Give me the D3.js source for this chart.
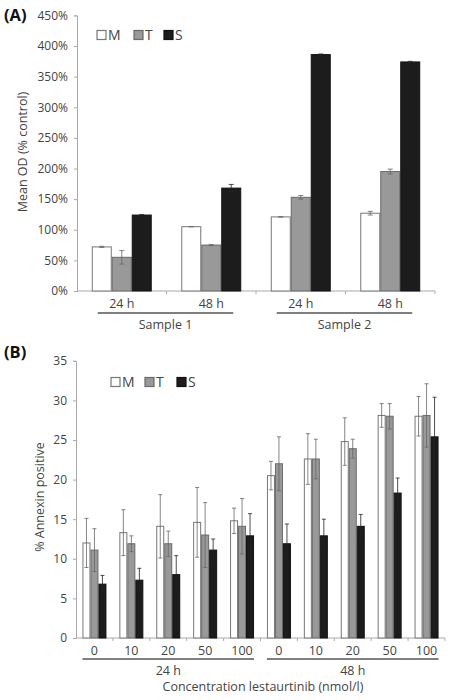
<!DOCTYPE html>
<html><head><meta charset="utf-8">
<script src="https://cdn.jsdelivr.net/npm/d3@7"></script>
<style>body{margin:0;background:#fff}svg{display:block}text{font-family:"Open Sans",sans-serif;fill:#444}</style>
</head><body><svg id="c" width="451" height="700"></svg>
<script>
// Panel A data
const aGroups = ["S1 24 h","S1 48 h","S2 24 h","S2 48 h"];
const aLabels = ["24 h","48 h","24 h","48 h"];
const aSamples = ["Sample 1","Sample 2"];
const aM = [72,105,121,127];
const aT = [55,75,153,195];
const aS = [124,168,386,374];
const aMerr = [1,0,0,3];
const aTerr = [11,1,3,4];
const aSerr = [1,6,1,1];
const aTicks = [0,50,100,150,200,250,300,350,400,450];

// Panel B data
const bGroups = ["24-0","24-10","24-20","24-50","24-100","48-0","48-10","48-20","48-50","48-100"];
const bLabels = ["0","10","20","50","100","0","10","20","50","100"];
const bTimes = ["24 h","48 h"];
const bM = [12.0,13.3,14.1,14.6,14.8,20.5,22.6,24.8,28.1,28.0];
const bT = [11.1,11.9,11.9,13.0,14.1,22.0,22.6,23.9,28.0,28.1];
const bS = [6.8,7.3,8.0,11.1,12.9,11.9,12.9,14.1,18.3,25.4];
const bMerr = [3.1,2.9,4.0,4.4,1.6,1.8,3.2,3.0,1.5,2.5];
const bTerr = [2.7,1.0,1.6,4.1,3.5,3.4,2.5,1.2,1.6,4.0];
const bSerr = [1.1,1.5,2.4,1.4,2.8,2.5,2.1,1.5,1.9,5.0];
const bTicks = [0,5,10,15,20,25,30,35];

const series = ["M","T","S"];
const fills = {M:"#ffffff",T:"#999999",S:"#1c1c1c"};
const strokes = {M:"#777",T:"#6a6a6a",S:"#111"};

const svg = d3.select("#c");

function panel(opt){
  const g = svg.append("g");
  const x = d3.scaleBand().domain(opt.groups).range([opt.x0,opt.x1]).paddingInner(opt.pad).paddingOuter(opt.pad/2);
  const xs = d3.scaleBand().domain(series).range([0,x.bandwidth()]);
  const y = d3.scaleLinear().domain([0,opt.ymax]).range([opt.y0,opt.y1]);
  // y axis
  const ya = g.append("g").attr("transform",`translate(${opt.x0},0)`)
    .call(d3.axisLeft(y).tickValues(opt.ticks).tickSize(3).tickPadding(6).tickFormat(opt.fmt));
  ya.select(".domain").attr("stroke","#aaa");
  ya.selectAll(".tick line").attr("stroke","#aaa");
  ya.selectAll(".tick text").style("font-size","12px").style("fill","#444").style("font-family","Open Sans");
  // x axis line + boundary ticks
  const xa = g.append("g").attr("transform",`translate(0,${opt.y0})`);
  xa.append("line").attr("x1",opt.x0).attr("x2",opt.x1).attr("stroke","#aaa");
  const step = x.step();
  const bounds = opt.groups.map((d,i)=>x(d)-x.paddingInner()*step/2).slice(1).concat([opt.x1]);
  xa.selectAll("line.b").data(bounds).join("line").attr("class","b")
    .attr("x1",d=>d).attr("x2",d=>d).attr("y1",0).attr("y2",3).attr("stroke","#aaa");
  // bars
  series.forEach(s=>{
    const vals = opt.data[s];
    g.selectAll(null).data(opt.groups).join("rect")
      .attr("x",(d,i)=>x(d)+xs(s)+0.5).attr("width",xs.bandwidth()-1)
      .attr("y",(d,i)=>y(vals[i])).attr("height",(d,i)=>opt.y0-y(vals[i]))
      .attr("fill",fills[s]).attr("stroke",strokes[s]).attr("stroke-width",1);
  });
  series.forEach(s=>{
    const vals = opt.data[s], errs = opt.err[s];
    const cx = (d)=>x(d)+xs(s)+xs.bandwidth()/2;
    const eg = g.selectAll(null).data(opt.groups).join("g");
    eg.append("line").attr("x1",cx).attr("x2",cx)
      .attr("y1",(d,i)=>y(vals[i]+errs[i])).attr("y2",(d,i)=>y(vals[i]-errs[i]))
      .attr("stroke",s==="S"?"#222":"#666").attr("stroke-width",0.8);
    [1,-1].forEach(sg=>{
      eg.append("line").attr("x1",d=>cx(d)-opt.cap).attr("x2",d=>cx(d)+opt.cap)
        .attr("y1",(d,i)=>y(vals[i]+sg*errs[i])).attr("y2",(d,i)=>y(vals[i]+sg*errs[i]))
        .attr("stroke",s==="S"?"#222":"#666").attr("stroke-width",0.8);
    });
  });
  // category labels
  g.selectAll(null).data(opt.groups).join("text")
    .attr("x",d=>x(d)+x.bandwidth()/2).attr("y",opt.y0+17).attr("text-anchor","middle")
    .style("font-size","12.5px").text((d,i)=>opt.labels[i]);
  // super group lines
  opt.supers.forEach((sp,k)=>{
    const a = x(opt.groups[sp.from]) + opt.lineExt[0], b = x(opt.groups[sp.to])+x.bandwidth()+opt.lineExt[1];
    g.append("line").attr("x1",a).attr("x2",b).attr("y1",opt.y0+opt.lineDy).attr("y2",opt.y0+opt.lineDy)
      .attr("stroke","#555").attr("stroke-width",1.5);
    g.append("text").attr("x",(a+b)/2).attr("y",opt.y0+opt.lineDy+16).attr("text-anchor","middle")
      .style("font-size","12.5px").text(sp.name);
  });
  // y label
  g.append("text").attr("transform",`translate(${opt.ylx},${opt.yly}) rotate(-90)`).attr("text-anchor","middle")
    .style("font-size","12.5px").text(opt.ylabel);
  // panel letter
  g.append("text").attr("x",4).attr("y",opt.letterY).style("font-size","16.5px").style("font-weight","bold")
    .style("font-family","Open Sans").style("fill","#111").text(opt.letter);
  // legend
  const lg = g.append("g").attr("transform",`translate(${opt.legX},${opt.legY})`);
  const offs = opt.legOffs;
  series.forEach((s,i)=>{
    lg.append("rect").attr("x",offs[i]).attr("y",-4.5).attr("width",9).attr("height",9)
      .attr("fill",fills[s]).attr("stroke",s==="M"?"#777":strokes[s]).attr("stroke-width",1.2);
    lg.append("text").attr("x",offs[i]+11).attr("y",5).style("font-size","14px").text(s);
  });
  return {x,y};
}

panel({groups:aGroups,labels:aLabels,data:{M:aM,T:aT,S:aS},err:{M:aMerr,T:aTerr,S:aSerr},
  ticks:aTicks,ymax:450,fmt:d=>d+"%",x0:77,x1:435,y0:291,y1:15.4,pad:0.33,cap:2.5,
  supers:[{name:aSamples[0],from:0,to:1},{name:aSamples[1],from:2,to:3}],lineExt:[6,-8],lineDy:22,
  ylabel:"Mean OD (% control)",ylx:27,yly:152,letter:"(A)",letterY:21,legX:97,legY:35,legOffs:[0,37,67]});

panel({groups:bGroups,labels:bLabels,data:{M:bM,T:bT,S:bS},err:{M:bMerr,T:bTerr,S:bSerr},
  ticks:bTicks,ymax:35,fmt:d=>d,x0:76,x1:445,y0:638,y1:360.8,pad:0.35,cap:2,
  supers:[{name:bTimes[0],from:0,to:4},{name:bTimes[1],from:5,to:9}],lineExt:[0,0],lineDy:21,
  ylabel:"% Annexin positive",ylx:44,yly:497,letter:"(B)",letterY:358,legX:111,legY:382,legOffs:[0,34,66]});

// x title for B
svg.append("text").attr("x",263).attr("y",691).attr("text-anchor","middle").style("font-size","12.5px")
  .text("Concentration lestaurtinib (nmol/l)");
</script></body></html>
